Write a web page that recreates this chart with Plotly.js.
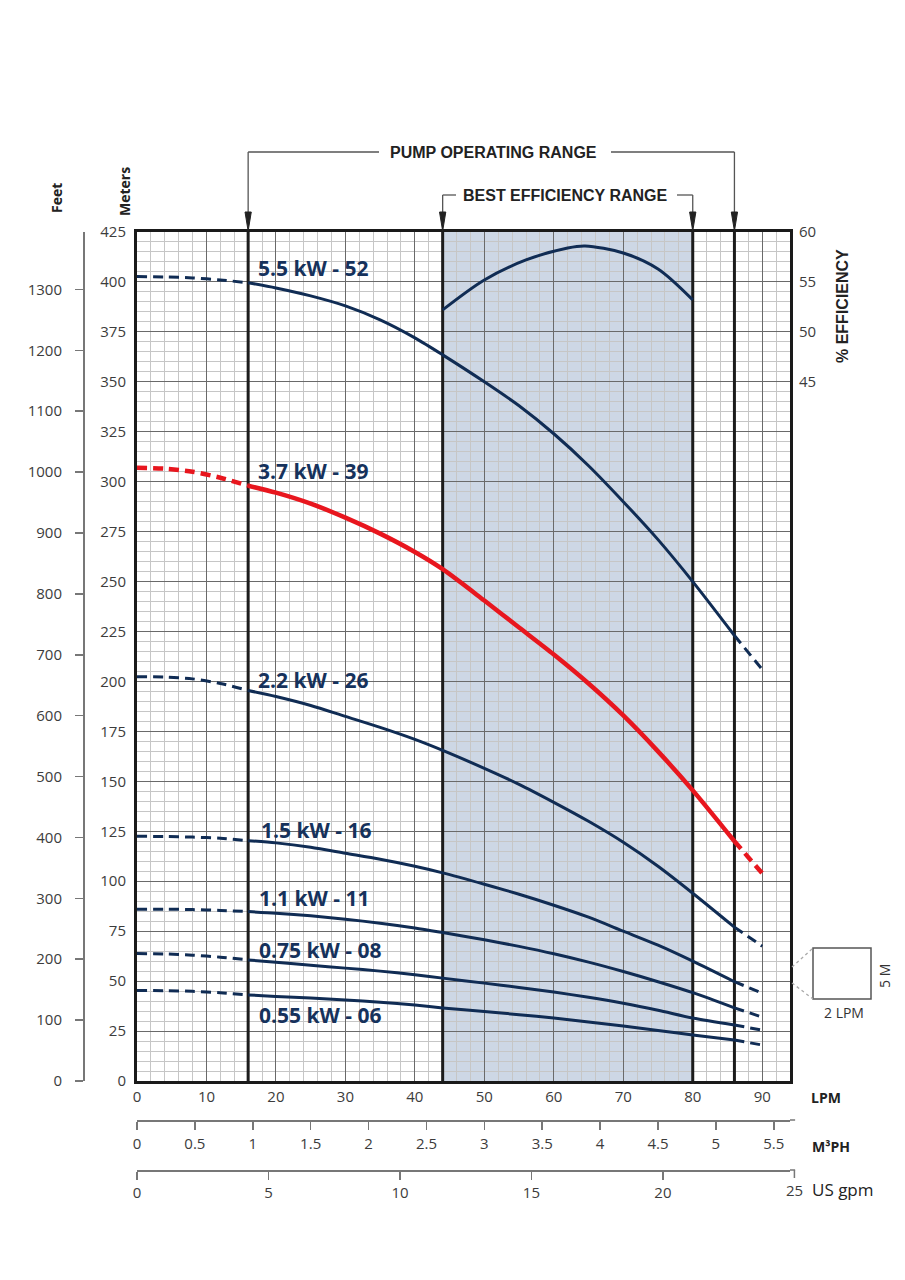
<!DOCTYPE html>
<html>
<head>
<meta charset="utf-8">
<script src="https://cdn.plot.ly/plotly-3.0.1.min.js"></script>
<style>html,body{margin:0;padding:0;background:#fff;}#chart{width:905px;height:1280px;}</style>
</head>
<body>
<div id="chart"></div>
<script>
// ---------------- DATA ----------------
const lpm = [0, 4, 8, 12, 16, 20, 25, 30, 35, 40, 44, 50, 55, 60, 65, 70, 75, 80, 86, 90];
const seriesNames = ['5.5 kW - 52', '3.7 kW - 39', '2.2 kW - 26', '1.5 kW - 16', '1.1 kW - 11', '0.75 kW - 08', '0.55 kW - 06'];
const head55 = [402.7, 402.5, 402, 401, 399.6, 397, 393, 388, 381, 372, 363.5, 350, 338, 324, 308, 290, 271, 250, 223, 206];
const head37 = [307, 306.5, 305, 302, 298, 294.5, 289, 282, 274, 264.8, 256.2, 240.5, 227, 213.5, 199, 183, 165, 145.5, 120, 104];
const head22 = [202.4, 202.2, 201.3, 199, 195.5, 192.5, 188, 182.5, 177, 171, 165.5, 156.5, 148.5, 139.5, 130, 119.5, 107.5, 94, 77, 67.5];
const head15 = [122.5, 122.4, 122.1, 121.5, 120.3, 119.2, 117, 114, 111, 107.5, 104.2, 98.5, 93.5, 88, 82, 75, 68, 60, 49.7, 44];
const head11 = [86, 86, 85.8, 85.4, 84.8, 84, 82.7, 81, 79, 76.6, 74.3, 70.7, 67.4, 63.7, 59.5, 54.8, 49.7, 44.2, 36.6, 32];
const head075 = [63.8, 63.6, 63, 62, 60.6, 59.5, 58, 56.5, 55, 53.2, 51.5, 49, 46.8, 44.5, 41.9, 38.9, 35.4, 31.5, 28, 25.5];
const head055 = [45.3, 45.2, 44.9, 44.2, 43.1, 42.3, 41.5, 40.6, 39.4, 38, 36.6, 34.8, 33.2, 31.5, 29.5, 27.5, 25.3, 23, 20.5, 18];
const effLpm = [44, 50, 56, 62, 64.5, 70, 75, 80];
const effPct = [52.2, 55.2, 57.2, 58.4, 58.6, 57.9, 56.3, 53.2];
const pumpRange = [16, 86];
const bestRange = [44, 80];
const meterTicks = [0, 25, 50, 75, 100, 125, 150, 175, 200, 225, 250, 275, 300, 325, 350, 375, 400, 425];
const feetTicks = [0, 100, 200, 300, 400, 500, 600, 700, 800, 900, 1000, 1100, 1200, 1300];
const effTicks = [45, 50, 55, 60];
const lpmTicks = [0, 10, 20, 30, 40, 50, 60, 70, 80, 90];
const m3phTicks = [0, 0.5, 1, 1.5, 2, 2.5, 3, 3.5, 4, 4.5, 5, 5.5];
const gpmTicks = [0, 5, 10, 15, 20, 25];
const heads = [head55, head37, head22, head15, head11, head075, head055];

// ---------------- LAYOUT GEOMETRY ----------------
const W = 905, H = 1280;
const PL = 80, PR = 790, PT = 232, PB = 1170;   // paper box in px
const plotL = 137, plotB = 1081;
const xMax = 94, yMax = 425;
const FT = 0.3048, M3 = 0.06, GPM = 3.78541;
const px = v => (v - PL) / (PR - PL);
const py = v => (PB - v) / (PB - PT);

const NAVY = '#102c54';
const RED = '#e8161e';
const FONT = 'Open Sans, sans-serif';

const traces = [];
heads.forEach((h, k) => {
  const col = k === 1 ? RED : NAVY;
  const w = k === 1 ? 4.5 : 3;
  const segs = [
    {f: q => q <= pumpRange[0], dash: '10px,6px'},
    {f: q => q >= pumpRange[0] && q <= pumpRange[1], dash: 'solid'},
    {f: q => q >= pumpRange[1], dash: '10px,6px'}
  ];
  segs.forEach(s => {
    const xs = [], ys = [];
    lpm.forEach((q, i) => { if (s.f(q)) { xs.push(q); ys.push(h[i]); } });
    traces.push({x: xs, y: ys, type: 'scatter', mode: 'lines', name: seriesNames[k],
      line: {color: col, width: w, dash: s.dash, shape: 'spline', smoothing: 0.8},
      hoverinfo: 'skip', showlegend: false, xaxis: 'x', yaxis: 'y'});
  });
});
traces.push({x: effLpm, y: effPct, type: 'scatter', mode: 'lines', name: 'Efficiency',
  line: {color: NAVY, width: 3, shape: 'spline', smoothing: 0.9}, xaxis: 'x', yaxis: 'y3', showlegend: false, hoverinfo: 'skip'});
// helper traces so the secondary scales render
traces.push({x: [0], y: [0], xaxis: 'x', yaxis: 'y2', mode: 'markers', marker: {opacity: 0}, showlegend: false, hoverinfo: 'skip'});
traces.push({x: [0], y: [0], xaxis: 'x2', yaxis: 'y', mode: 'markers', marker: {opacity: 0}, showlegend: false, hoverinfo: 'skip'});
traces.push({x: [0], y: [0], xaxis: 'x3', yaxis: 'y', mode: 'markers', marker: {opacity: 0}, showlegend: false, hoverinfo: 'skip'});

const tickFont = {family: FONT, size: 15, color: '#3c3c3c'};
const xDom = [px(plotL), 1];
const yDom = [py(plotB), 1];

const shapes = [];
shapes.push({type: 'rect', xref: 'x', yref: 'y', x0: bestRange[0], x1: bestRange[1], y0: 0, y1: yMax,
  fillcolor: '#cdd7e5', line: {width: 0}, layer: 'below'});
[pumpRange[0], bestRange[0], bestRange[1], pumpRange[1]].forEach(v => {
  shapes.push({type: 'line', xref: 'x', yref: 'y', x0: v, x1: v, y0: 0, y1: yMax,
    line: {color: '#1c1c1c', width: 3}, layer: 'between'});
});
const GR = '#555';
const yPump = py(152), yBest = py(195), yArrTop = py(212), yTip = py(231);
function vline(x, yA, yB) { shapes.push({type: 'line', xref: 'x', yref: 'paper', x0: x, x1: x, y0: yA, y1: yB, line: {color: GR, width: 1.3}}); }
function hline(xa, xb, y) { shapes.push({type: 'line', xref: 'x', yref: 'paper', x0: xa, x1: xb, y0: y, y1: y, line: {color: GR, width: 1.3}}); }
function arrow(x) {
  shapes.push({type: 'path', xref: 'x', yref: 'paper',
    path: `M ${x - 0.45},${yArrTop} L ${x + 0.45},${yArrTop} L ${x},${yTip} Z`,
    fillcolor: '#222', line: {color: '#222', width: 1}});
}
const lpmOfPx = p => (p - plotL) / ((PR - plotL) / xMax);
vline(pumpRange[0], yPump, yArrTop); hline(pumpRange[0], lpmOfPx(379), yPump);
hline(lpmOfPx(611), pumpRange[1], yPump); vline(pumpRange[1], yPump, yArrTop);
vline(bestRange[0], yBest, yArrTop); hline(bestRange[0], lpmOfPx(456), yBest);
hline(lpmOfPx(677), bestRange[1], yBest); vline(bestRange[1], yBest, yArrTop);
[pumpRange[0], bestRange[0], bestRange[1], pumpRange[1]].forEach(arrow);

const gpm25 = px(plotL + 25 * GPM * (PR - plotL) / xMax);
const yM3 = py(1120), yG = py(1170);
shapes.push({type: 'line', xref: 'paper', yref: 'paper', x0: 1, x1: gpm25 + 0.001, y0: yM3, y1: yM3, line: {color: '#777', width: 1.5}});
shapes.push({type: 'line', xref: 'paper', yref: 'paper', x0: 1, x1: gpm25 + 0.001, y0: yG, y1: yG, line: {color: '#777', width: 1.5}});
shapes.push({type: 'line', xref: 'paper', yref: 'paper', x0: gpm25, x1: gpm25, y0: yG, y1: py(1178), line: {color: '#777', width: 1.5}});

shapes.push({type: 'rect', xref: 'paper', yref: 'paper', x0: px(813), x1: px(871), y0: py(999), y1: py(948),
  line: {color: '#555', width: 1.5}, fillcolor: 'rgba(0,0,0,0)'});
shapes.push({type: 'line', xref: 'paper', yref: 'paper', x0: px(792), x1: px(813), y0: py(967), y1: py(948), line: {color: '#aaa', width: 1.3, dash: 'dot'}});
shapes.push({type: 'line', xref: 'paper', yref: 'paper', x0: px(792), x1: px(813), y0: py(983), y1: py(999), line: {color: '#aaa', width: 1.3, dash: 'dot'}});

const annotations = [];
const labelPos = [[17.2, 406.9], [17.2, 305.3], [17.2, 200.7], [17.5, 125.6], [17.3, 91.7], [17.3, 65.6], [17.3, 33]];
seriesNames.forEach((n, k) => {
  annotations.push({x: labelPos[k][0], y: labelPos[k][1], xref: 'x', yref: 'y', text: '<b>' + n + '</b>',
    showarrow: false, xanchor: 'left', yanchor: 'middle', font: {family: FONT, size: 21, color: '#16325c'}});
});
const hdr = {family: 'Liberation Sans, Arial, sans-serif', size: 16, color: '#222'};
function ann(x, y, text, font, extra) {
  annotations.push(Object.assign({x: x, y: y, xref: 'paper', yref: 'paper', text: text, showarrow: false,
    xanchor: 'center', yanchor: 'middle', font: font}, extra || {}));
}
annotations.push({x: lpmOfPx(493.5), y: yPump, xref: 'x', yref: 'paper', text: '<b>PUMP OPERATING RANGE</b>', showarrow: false, font: hdr, xanchor: 'center', yanchor: 'middle'});
annotations.push({x: lpmOfPx(565.5), y: yBest, xref: 'x', yref: 'paper', text: '<b>BEST EFFICIENCY RANGE</b>', showarrow: false, font: hdr, xanchor: 'center', yanchor: 'middle'});
ann(px(842), py(306), '<b>% EFFICIENCY</b>', hdr, {textangle: -90});
const unitFont = {family: FONT, size: 14, color: '#222'};
ann(px(56), py(198), '<b>Feet</b>', unitFont, {textangle: -90});
ann(px(124), py(192), '<b>Meters</b>', unitFont, {textangle: -90});
ann(px(809), py(1097), '<b>LPM</b>', unitFont, {xanchor: 'left'});
ann(px(810), py(1146), '<b>M³PH</b>', unitFont, {xanchor: 'left'});
ann(px(810), py(1189), 'US gpm', {family: FONT, size: 17, color: '#222'}, {xanchor: 'left'});
ann(gpm25, py(1190), String(gpmTicks[gpmTicks.length - 1]), tickFont);
ann(px(844), py(1012), '2 LPM', {family: FONT, size: 14, color: '#333'});
ann(px(884), py(976), '5 M', {family: FONT, size: 14, color: '#333'}, {textangle: -90});

const layout = {
  width: W, height: H,
  margin: {l: PL, r: W - PR, t: PT, b: H - PB, pad: 0},
  paper_bgcolor: '#fff', plot_bgcolor: '#fff',
  showlegend: false,
  xaxis: {domain: xDom, range: [0, xMax], tickvals: lpmTicks, ticks: '', showgrid: true, gridcolor: '#6a6a6a', gridwidth: 1,
    minor: {dtick: 2, tick0: 0, showgrid: true, gridcolor: '#c6c6c6', gridwidth: 1},
    showline: true, mirror: true, linecolor: '#1a1a1a', linewidth: 3, zeroline: false, tickfont: tickFont, ticklabelstandoff: 0, fixedrange: true},
  yaxis: {domain: yDom, range: [0, yMax], tickvals: meterTicks, ticks: '', showgrid: true, gridcolor: '#6a6a6a', gridwidth: 1,
    minor: {dtick: 5, tick0: 0, showgrid: true, gridcolor: '#c6c6c6', gridwidth: 1},
    showline: true, mirror: true, linecolor: '#1a1a1a', linewidth: 3, zeroline: false, tickfont: tickFont, ticklabelstandoff: 5, fixedrange: true},
  yaxis2: {overlaying: 'y', anchor: 'free', position: px(83), side: 'left', range: [0, yMax / FT], tickvals: feetTicks,
    ticks: 'outside', ticklen: 8, tickcolor: '#777', tickwidth: 1.5, showline: true, linecolor: '#777', linewidth: 1.5,
    showgrid: false, zeroline: false, tickfont: tickFont, ticklabelstandoff: 10, fixedrange: true},
  yaxis3: {overlaying: 'y', anchor: 'x', side: 'right', range: [60 - yMax / 5, 60], tickvals: effTicks, ticks: '',
    showgrid: false, zeroline: false, showline: false, tickfont: tickFont, ticklabelstandoff: 8, fixedrange: true},
  xaxis2: {overlaying: 'x', anchor: 'free', position: py(1120), side: 'bottom', range: [0, xMax * M3], tickvals: m3phTicks,
    ticks: 'outside', ticklen: 8, tickcolor: '#777', tickwidth: 1.5, showline: true, linecolor: '#777', linewidth: 1.5,
    showgrid: false, zeroline: false, tickfont: tickFont, ticklabelstandoff: 1, fixedrange: true},
  xaxis3: {overlaying: 'x', anchor: 'free', position: py(1170), side: 'bottom', range: [0, xMax / GPM], tickvals: gpmTicks,
    ticks: 'outside', ticklen: 8, tickcolor: '#777', tickwidth: 1.5, showline: true, linecolor: '#777', linewidth: 1.5,
    showgrid: false, zeroline: false, tickfont: tickFont, ticklabelstandoff: 0, fixedrange: true},
  shapes: shapes,
  annotations: annotations
};

Plotly.newPlot('chart', traces, layout, {displayModeBar: false, staticPlot: true});
</script>
</body>
</html>
